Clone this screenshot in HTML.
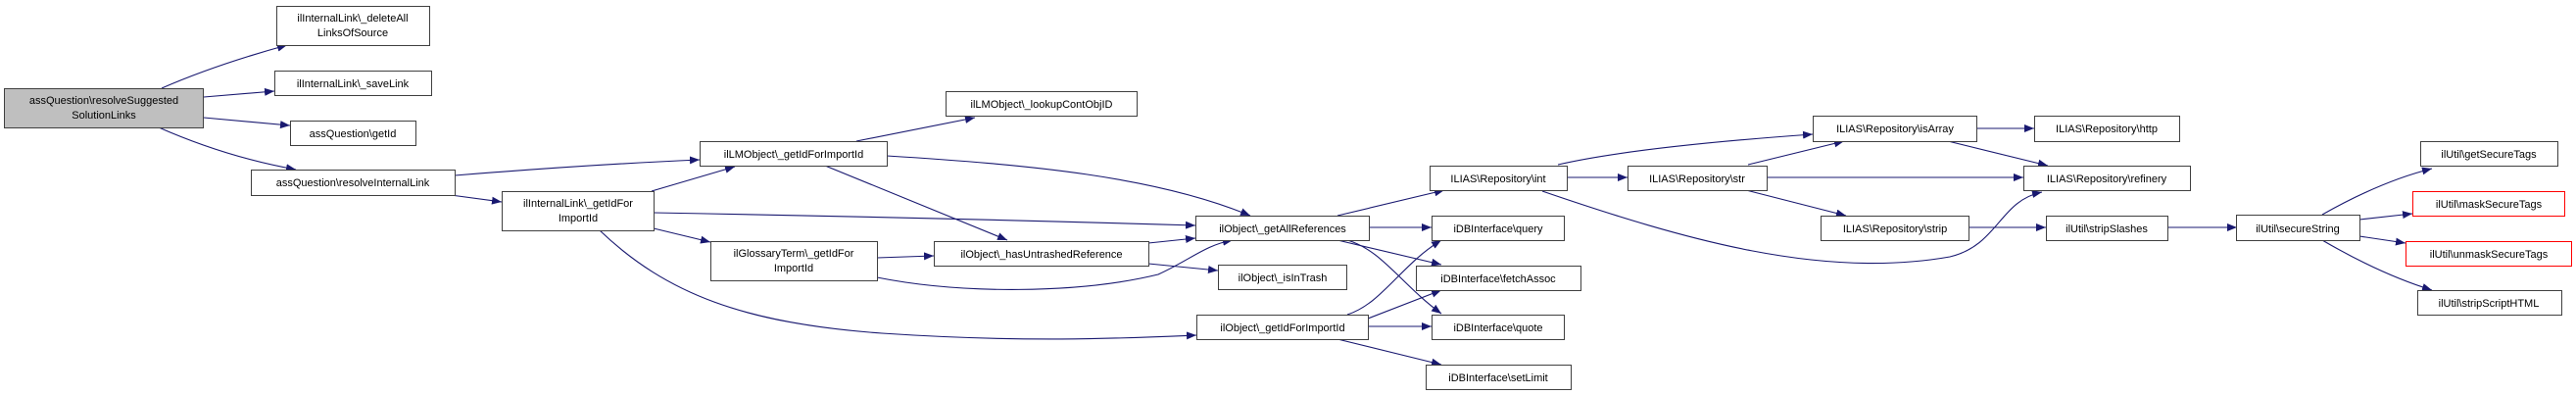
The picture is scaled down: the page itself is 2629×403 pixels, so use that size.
<!DOCTYPE html>
<html><head><meta charset="utf-8"><style>
html,body{margin:0;padding:0;background:#fff;}
svg{display:block;}
text{font-family:"Liberation Sans",Arial,sans-serif;font-size:11px;fill:#000;}
</style></head><body>
<svg width="2629" height="403" viewBox="0 0 2629 403" xmlns="http://www.w3.org/2000/svg">
<defs>
<marker id="a" markerWidth="11" markerHeight="8" refX="10" refY="4" orient="auto" markerUnits="userSpaceOnUse">
<path d="M0,0 L10,4 L0,8 Z" fill="#191970"/>
</marker>
</defs>
<g fill="none" stroke="#191970" stroke-width="1.1" marker-end="url(#a)">
<path d="M165,90 Q220,66 293,46"/>
<path d="M208,99 L280,93"/>
<path d="M208,120 L296,128"/>
<path d="M162,130 Q230,160 302,173"/>
<path d="M464,179 Q600,168 714,163"/>
<path d="M460,199 L512,206"/>
<path d="M665,195 L750,170"/>
<path d="M667,217 Q950,222 1220,230"/>
<path d="M667,233 L725,247"/>
<path d="M612,235 C680,300 760,330 900,340 C1050,350 1150,345 1221,342"/>
<path d="M874,144 L995,120"/>
<path d="M905,159 C1050,168 1180,180 1276,220"/>
<path d="M842,169 L1028,245"/>
<path d="M895,263 L953,261"/>
<path d="M895,283 C980,300 1100,300 1182,280 C1215,265 1230,250 1258,245"/>
<path d="M1172,248 L1220,243"/>
<path d="M1172,269 L1243,276"/>
<path d="M1365,220 L1474,194"/>
<path d="M1397,232 L1461,232"/>
<path d="M1365,245 L1471,270"/>
<path d="M1375,245 C1410,255 1430,290 1471,320"/>
<path d="M1375,321 C1410,310 1430,270 1471,245"/>
<path d="M1396,325 L1471,296"/>
<path d="M1396,333 L1461,333"/>
<path d="M1365,346 L1471,372"/>
<path d="M1590,168 Q1668,150 1850,137"/>
<path d="M1599,181 L1661,181"/>
<path d="M1574,195 C1720,245 1860,285 1990,262 C2040,250 2040,205 2084,196"/>
<path d="M1784,168 L1882,144"/>
<path d="M1803,181 L2065,181"/>
<path d="M1782,194 L1884,220"/>
<path d="M2017,131 L2076,131"/>
<path d="M1988,144 L2090,169"/>
<path d="M2009,232 L2088,232"/>
<path d="M2212,232 L2283,232"/>
<path d="M2370,219 Q2430,185 2482,172"/>
<path d="M2408,224 L2462,218"/>
<path d="M2408,241 L2455,248"/>
<path d="M2370,245 Q2430,280 2482,296"/>
</g>
<g stroke-width="1" shape-rendering="crispEdges">
<rect x="4.5" y="90.5" width="203" height="40" fill="#bfbfbf" stroke="#404040"/>
<g fill="#fff" stroke="#404040">
<rect x="282.5" y="6.5" width="156" height="40"/>
<rect x="280.5" y="72.5" width="160" height="25"/>
<rect x="296.5" y="123.5" width="128" height="25"/>
<rect x="256.5" y="173.5" width="208" height="26"/>
<rect x="512.5" y="195.5" width="155" height="40"/>
<rect x="965.5" y="93.5" width="195" height="25"/>
<rect x="714.5" y="144.5" width="191" height="25"/>
<rect x="725.5" y="246.5" width="170" height="40"/>
<rect x="953.5" y="246.5" width="219" height="25"/>
<rect x="1220.5" y="220.5" width="177" height="25"/>
<rect x="1243.5" y="270.5" width="131" height="25"/>
<rect x="1221.5" y="321.5" width="175" height="25"/>
<rect x="1459.5" y="169.5" width="140" height="25"/>
<rect x="1661.5" y="169.5" width="142" height="25"/>
<rect x="1850.5" y="118.5" width="167" height="26"/>
<rect x="1858.5" y="220.5" width="151" height="25"/>
<rect x="1461.5" y="220.5" width="135" height="25"/>
<rect x="1445.5" y="271.5" width="168" height="25"/>
<rect x="1461.5" y="321.5" width="135" height="25"/>
<rect x="1455.5" y="372.5" width="148" height="25"/>
<rect x="2076.5" y="118.5" width="148" height="26"/>
<rect x="2065.5" y="169.5" width="170" height="25"/>
<rect x="2088.5" y="220.5" width="124" height="25"/>
<rect x="2282.5" y="219.5" width="126" height="26"/>
<rect x="2470.5" y="144.5" width="140" height="25"/>
<rect x="2467.5" y="296.5" width="147" height="25"/>
</g>
<g fill="#fff" stroke="#ff0000">
<rect x="2462.5" y="195.5" width="155" height="25"/>
<rect x="2455.5" y="246.5" width="169" height="25"/>
</g>
</g>
<g text-anchor="middle">
<text x="106" y="106">assQuestion\resolveSuggested</text>
<text x="106" y="121">SolutionLinks</text>
<text x="360" y="22">ilInternalLink\_deleteAll</text>
<text x="360" y="37">LinksOfSource</text>
<text x="360" y="89">ilInternalLink\_saveLink</text>
<text x="360" y="140">assQuestion\getId</text>
<text x="360" y="190">assQuestion\resolveInternalLink</text>
<text x="590" y="211">ilInternalLink\_getIdFor</text>
<text x="590" y="226">ImportId</text>
<text x="1063" y="110">ilLMObject\_lookupContObjID</text>
<text x="810" y="161">ilLMObject\_getIdForImportId</text>
<text x="810" y="262">ilGlossaryTerm\_getIdFor</text>
<text x="810" y="277">ImportId</text>
<text x="1063" y="263">ilObject\_hasUntrashedReference</text>
<text x="1309" y="237">ilObject\_getAllReferences</text>
<text x="1309" y="287">ilObject\_isInTrash</text>
<text x="1309" y="338">ilObject\_getIdForImportId</text>
<text x="1529" y="186">ILIAS\Repository\int</text>
<text x="1732" y="186">ILIAS\Repository\str</text>
<text x="1934" y="135">ILIAS\Repository\isArray</text>
<text x="1934" y="237">ILIAS\Repository\strip</text>
<text x="1529" y="237">iDBInterface\query</text>
<text x="1529" y="288">iDBInterface\fetchAssoc</text>
<text x="1529" y="338">iDBInterface\quote</text>
<text x="1529" y="389">iDBInterface\setLimit</text>
<text x="2150" y="135">ILIAS\Repository\http</text>
<text x="2150" y="186">ILIAS\Repository\refinery</text>
<text x="2150" y="237">ilUtil\stripSlashes</text>
<text x="2345" y="237">ilUtil\secureString</text>
<text x="2540" y="161">ilUtil\getSecureTags</text>
<text x="2540" y="212">ilUtil\maskSecureTags</text>
<text x="2540" y="263">ilUtil\unmaskSecureTags</text>
<text x="2540" y="313">ilUtil\stripScriptHTML</text>
</g>
</svg>
</body></html>
